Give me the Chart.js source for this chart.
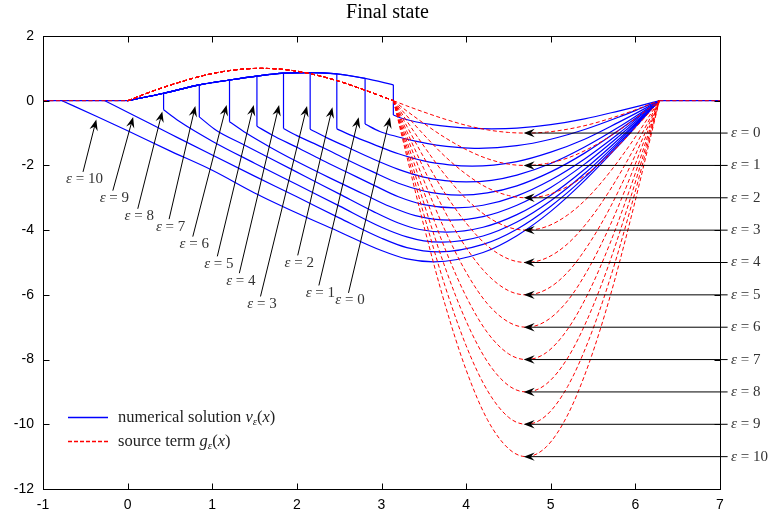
<!DOCTYPE html>
<html>
<head>
<meta charset="utf-8">
<title>Final state</title>
<script src="https://cdn.jsdelivr.net/npm/chart.js@4.4.1/dist/chart.umd.min.js"></script>
<style>
  html, body { margin: 0; padding: 0; background: #fff; }
</style>
</head>
<body>
<canvas id="chart" width="775" height="519"></canvas>
<script>
// ---- data ----
const epsValues = [0, 1, 2, 3, 4, 5, 6, 7, 8, 9, 10];
const xTicks = [-1, 0, 1, 2, 3, 4, 5, 6, 7];
const yTicks = [-12, -10, -8, -6, -4, -2, 0, 2];

// upper envelope of v_eps before the jump (shared by eps = 0..8)
const envX = [0, 0.425, 0.847, 1.204, 1.528, 1.842, 2.157, 2.472, 2.806, 3.14];
const envY = [0, 0.23, 0.49, 0.64, 0.76, 0.85, 0.87, 0.83, 0.69, 0.49];
const jumpX = [3.14, 2.806, 2.472, 2.157, 1.842, 1.528, 1.204, 0.847, 0.425, null, null];
const jumpBottom = [-0.44, -0.72, -0.87, -0.88, -0.86, -0.79, -0.65, -0.50, -0.28, null, null];

// v_eps after the jump, down to the minimum and back up to 2*pi
const vLowX = [
  [3.14, 3.25, 3.4, 3.6, 3.8, 4.05, 4.3, 4.6, 5.0, 5.4, 5.8, 6.05, 6.2832],
  [2.806, 2.98, 3.2, 3.4, 3.65, 3.9, 4.15, 4.6, 5.0, 5.4, 5.8, 6.05, 6.2832],
  [2.472, 2.65, 2.9, 3.2, 3.5, 3.8, 4.07, 4.6, 5.0, 5.4, 5.8, 6.05, 6.2832],
  [2.157, 2.35, 2.6, 2.9, 3.2, 3.5, 3.75, 4.0, 4.3, 4.6, 5.0, 5.4, 5.8, 6.05, 6.2832],
  [1.842, 2.0, 2.3, 2.6, 2.9, 3.2, 3.5, 3.7, 3.93, 4.25, 4.6, 5.0, 5.4, 5.8, 6.05, 6.2832],
  [1.528, 1.7, 2.0, 2.3, 2.6, 2.9, 3.2, 3.5, 3.87, 4.2, 4.6, 5.0, 5.4, 5.8, 6.05, 6.2832],
  [1.204, 1.4, 1.7, 2.0, 2.4, 2.8, 3.1, 3.4, 3.81, 4.2, 4.6, 5.0, 5.4, 5.8, 6.05, 6.2832],
  [0.847, 1.05, 1.35, 1.7, 2.1, 2.5, 2.9, 3.2, 3.45, 3.77, 4.2, 4.6, 5.0, 5.4, 5.8, 6.05, 6.2832],
  [0.425, 0.6, 1.0, 1.5, 2.0, 2.5, 3.0, 3.3, 3.5, 3.72, 4.2, 4.6, 5.0, 5.4, 5.8, 6.05, 6.2832],
  [-0.27, 0.07, 0.5, 1.0, 1.5, 2.0, 2.5, 3.0, 3.3, 3.68, 4.2, 4.6, 5.0, 5.4, 5.8, 6.05, 6.2832],
  [-0.775, -0.37, 0, 0.5, 1.0, 1.5, 2.0, 2.5, 3.0, 3.3, 3.62, 4.2, 4.6, 5.0, 5.4, 5.8, 6.05, 6.2832]
];
const vLowY = [
  [-0.44, -0.55, -0.65, -0.74, -0.80, -0.85, -0.87, -0.85, -0.74, -0.56, -0.32, -0.16, 0],
  [-0.72, -0.95, -1.12, -1.25, -1.37, -1.44, -1.47, -1.39, -1.19, -0.89, -0.51, -0.25, 0],
  [-0.87, -1.08, -1.34, -1.64, -1.86, -1.98, -2.02, -1.88, -1.59, -1.19, -0.67, -0.33, 0],
  [-0.88, -1.14, -1.44, -1.80, -2.12, -2.36, -2.47, -2.51, -2.46, -2.30, -1.94, -1.43, -0.82, -0.40, 0],
  [-0.86, -1.08, -1.44, -1.83, -2.20, -2.55, -2.79, -2.88, -2.92, -2.85, -2.63, -2.20, -1.62, -0.92, -0.45, 0],
  [-0.79, -1.05, -1.44, -1.84, -2.22, -2.60, -2.97, -3.21, -3.31, -3.23, -2.94, -2.45, -1.80, -1.02, -0.49, 0],
  [-0.65, -1.00, -1.46, -1.88, -2.40, -2.90, -3.27, -3.55, -3.69, -3.58, -3.23, -2.68, -1.96, -1.11, -0.54, 0],
  [-0.50, -0.92, -1.33, -1.80, -2.34, -2.88, -3.42, -3.78, -3.98, -4.06, -3.91, -3.52, -2.92, -2.12, -1.20, -0.58, 0],
  [-0.28, -0.62, -1.25, -1.93, -2.59, -3.25, -3.91, -4.21, -4.33, -4.37, -4.18, -3.75, -3.09, -2.25, -1.27, -0.61, 0],
  [0, -0.45, -1.02, -1.68, -2.33, -2.97, -3.62, -4.25, -4.54, -4.67, -4.44, -3.97, -3.26, -2.37, -1.33, -0.64, 0],
  [0, -0.48, -0.93, -1.55, -2.15, -2.85, -3.47, -4.05, -4.63, -4.89, -4.98, -4.69, -4.17, -3.42, -2.47, -1.39, -0.67, 0]
];

// source term g_eps: common hump on [0, pi], then one dip per eps on [pi, 2pi]
const gHumpX = [0, 0.3, 0.6, 0.9, 1.2, 1.5708, 1.9, 2.2, 2.5, 2.8, 3.1416];
const gHumpY = [0, 0.30, 0.56, 0.78, 0.93, 1.0, 0.95, 0.81, 0.60, 0.33, 0];
const gDipX = [3.1416, 3.3, 3.5, 3.75, 4.0, 4.25, 4.5, 4.71, 4.95, 5.2, 5.45, 5.7, 5.95, 6.15, 6.2832];
const gDipY = [
  [0, -0.16, -0.35, -0.57, -0.76, -0.90, -0.98, -1, -0.97, -0.88, -0.74, -0.55, -0.33, -0.13, 0],
  [0, -0.32, -0.70, -1.14, -1.51, -1.79, -1.96, -2, -1.94, -1.77, -1.48, -1.10, -0.65, -0.26, 0],
  [0, -0.47, -1.05, -1.72, -2.27, -2.69, -2.93, -3, -2.92, -2.65, -2.22, -1.65, -0.98, -0.40, 0],
  [0, -0.63, -1.40, -2.29, -3.03, -3.58, -3.91, -4, -3.89, -3.53, -2.96, -2.20, -1.31, -0.53, 0],
  [0, -0.79, -1.75, -2.86, -3.78, -4.48, -4.89, -5, -4.86, -4.42, -3.70, -2.76, -1.64, -0.66, 0],
  [0, -0.95, -2.10, -3.43, -4.54, -5.37, -5.87, -6, -5.83, -5.30, -4.43, -3.31, -1.96, -0.79, 0],
  [0, -1.10, -2.46, -4.00, -5.30, -6.27, -6.84, -7, -6.80, -6.18, -5.17, -3.86, -2.29, -0.92, 0],
  [0, -1.26, -2.81, -4.57, -6.05, -7.16, -7.82, -8, -7.78, -7.06, -5.91, -4.41, -2.62, -1.06, 0],
  [0, -1.42, -3.16, -5.14, -6.81, -8.06, -8.80, -9, -8.75, -7.95, -6.65, -4.96, -2.94, -1.19, 0],
  [0, -1.58, -3.51, -5.72, -7.57, -8.95, -9.78, -10, -9.72, -8.83, -7.39, -5.51, -3.27, -1.32, 0],
  [0, -1.73, -3.86, -6.29, -8.32, -9.85, -10.75, -11, -10.69, -9.71, -8.13, -6.06, -3.60, -1.45, 0]
];
const zeroLeftX = [-1, 0];
const zeroRightX = [6.2832, 7];

// annotation arrows (data units)
const leftTailX = [2.61, 2.26, 2.01, 1.57, 1.32, 1.06, 0.77, 0.49, 0.12, -0.175, -0.527];
const leftTailY = [-5.94, -5.71, -4.78, -6.05, -5.33, -4.81, -4.20, -3.66, -3.34, -2.78, -2.20];
const leftTipX = [3.10, 2.73, 2.42, 2.12, 1.79, 1.49, 1.17, 0.80, 0.41, 0.065, -0.37];
const leftTipY = [-0.51, -0.51, -0.20, -0.16, -0.13, -0.13, -0.13, -0.16, -0.33, -0.50, -0.58];
const rightArrowY = [-1, -2, -3, -4, -5, -6, -7, -8, -9, -10, -11];
const rightTailX = 7.09;
const rightTipX = 4.68;

// ---- styles ----
const BLUE = 'rgb(0, 0, 255)';
const RED = 'rgb(255, 0, 0)';
const SERIF = '"Liberation Serif", "DejaVu Serif", serif';
const tickFont = { family: '"Liberation Sans", Arial, sans-serif', size: 14 };

const pts = (xs, ys) => xs.map((x, i) => ({ x, y: ys[i] }));
const blueLine = (data, smooth) => ({
  data, borderColor: BLUE, borderWidth: 1.2, pointRadius: 0, fill: false, order: 1,
  cubicInterpolationMode: smooth ? 'monotone' : 'default', tension: 0
});
const redLine = (data, smooth) => ({
  data, borderColor: RED, borderWidth: 1, borderDash: [4, 2.5], pointRadius: 0, fill: false, order: 0,
  cubicInterpolationMode: smooth ? 'monotone' : 'default', tension: 0
});

const datasets = [];
epsValues.forEach((e, k) => {
  // numerical solution v_eps
  if (jumpX[k] !== null) {
    const n = envX.indexOf(jumpX[k]);
    datasets.push(blueLine(pts(envX.slice(0, n + 1), envY.slice(0, n + 1)), true));
    datasets.push(blueLine([{ x: jumpX[k], y: envY[n] }, { x: jumpX[k], y: jumpBottom[k] }], false));
  }
  datasets.push(blueLine(pts(vLowX[k], vLowY[k]), true));
  // source term g_eps
  datasets.push(redLine(pts(gHumpX, gHumpY), true));
  datasets.push(redLine(pts(gDipX, gDipY[k]), true));
});
datasets.push(blueLine(pts(zeroLeftX, [0, 0]), false));
datasets.push(blueLine(pts(zeroRightX, [0, 0]), false));
datasets.push(redLine(pts(zeroLeftX, [0, 0]), false));
datasets.push(redLine(pts(zeroRightX, [0, 0]), false));

// ---- drawing helpers ----
function richText(ctx, parts, x, y, align, size) {
  const fontOf = p => (p[1].includes('i') ? 'italic ' : '') + (p[1].includes('s') ? Math.round(size * 0.68) : size) + 'px ' + SERIF;
  let w = 0;
  parts.forEach(p => { ctx.font = fontOf(p); w += ctx.measureText(p[0]).width; });
  let cx = align === 'center' ? x - w / 2 : x;
  ctx.textAlign = 'left';
  ctx.textBaseline = 'middle';
  parts.forEach(p => {
    ctx.font = fontOf(p);
    ctx.fillText(p[0], cx, y + (p[1].includes('s') ? size * 0.28 : 0));
    cx += ctx.measureText(p[0]).width;
  });
}

function arrow(ctx, x1, y1, x2, y2) {
  const a = Math.atan2(y2 - y1, x2 - x1);
  const c = Math.cos(a), s = Math.sin(a);
  const len = 11, wid = 4.2;
  ctx.beginPath();
  ctx.moveTo(x1, y1);
  ctx.lineTo(x2 - c * 6, y2 - s * 6);
  ctx.stroke();
  ctx.beginPath();
  ctx.moveTo(x2, y2);
  ctx.lineTo(x2 - c * len - s * wid, y2 - s * len + c * wid);
  ctx.lineTo(x2 - c * len * 0.65, y2 - s * len * 0.65);
  ctx.lineTo(x2 - c * len + s * wid, y2 - s * len - c * wid);
  ctx.closePath();
  ctx.fill();
}

const epsLabel = e => [['ε', 'i'], [' = ' + e, 'r']];

const decorations = {
  id: 'decorations',
  afterDraw(chart) {
    const { ctx, chartArea: ca, scales: { x, y } } = chart;
    ctx.save();

    // frame and inward ticks on all four sides
    ctx.strokeStyle = '#000';
    ctx.lineWidth = 1;
    const L = Math.round(ca.left) + 0.5, R = Math.round(ca.right) + 0.5;
    const T = Math.round(ca.top) + 0.5, B = Math.round(ca.bottom) + 0.5;
    ctx.strokeRect(L, T, R - L, B - T);
    ctx.beginPath();
    xTicks.forEach(v => {
      const px = Math.round(x.getPixelForValue(v)) + 0.5;
      ctx.moveTo(px, B); ctx.lineTo(px, B - 6);
      ctx.moveTo(px, T); ctx.lineTo(px, T + 6);
    });
    yTicks.forEach(v => {
      const py = Math.round(y.getPixelForValue(v)) + 0.5;
      ctx.moveTo(L, py); ctx.lineTo(L + 6, py);
      ctx.moveTo(R, py); ctx.lineTo(R - 6, py);
    });
    ctx.stroke();

    // title
    ctx.fillStyle = '#000';
    ctx.font = '20px ' + SERIF;
    ctx.textAlign = 'center';
    ctx.textBaseline = 'middle';
    ctx.fillText('Final state', 387.5, 13);

    // arrows pointing at the jumps of v_eps
    ctx.fillStyle = '#000';
    ctx.strokeStyle = '#000';
    ctx.lineWidth = 1;
    epsValues.forEach((e, k) => {
      const tx = x.getPixelForValue(leftTailX[k]), ty = y.getPixelForValue(leftTailY[k]);
      arrow(ctx, tx, ty, x.getPixelForValue(leftTipX[k]), y.getPixelForValue(leftTipY[k]));
    });
    // arrows pointing at the minima of g_eps
    epsValues.forEach((e, k) => {
      const py = y.getPixelForValue(rightArrowY[k]);
      arrow(ctx, x.getPixelForValue(rightTailX), py, x.getPixelForValue(rightTipX), py);
    });

    // eps labels
    ctx.fillStyle = '#333';
    epsValues.forEach((e, k) => {
      const tx = x.getPixelForValue(leftTailX[k]), ty = y.getPixelForValue(leftTailY[k]);
      richText(ctx, epsLabel(e), tx + 1.5, ty + 7.5, 'center', 15);
      const rx = x.getPixelForValue(rightTailX), ry = y.getPixelForValue(rightArrowY[k]);
      richText(ctx, epsLabel(e), rx + 3.5, ry, 'left', 15);
    });

    // legend
    const lx = ca.left + 25, ly1 = Math.round(ca.bottom - 72) + 0.5, ly2 = Math.round(ca.bottom - 48) + 0.5;
    ctx.lineWidth = 1.3;
    ctx.strokeStyle = BLUE;
    ctx.beginPath(); ctx.moveTo(lx, ly1); ctx.lineTo(lx + 40, ly1); ctx.stroke();
    ctx.strokeStyle = RED;
    ctx.setLineDash([4, 2]);
    ctx.beginPath(); ctx.moveTo(lx, ly2); ctx.lineTo(lx + 40, ly2); ctx.stroke();
    ctx.setLineDash([]);
    ctx.fillStyle = '#222';
    richText(ctx, [['numerical solution ', 'r'], ['v', 'i'], ['ε', 'is'], ['(', 'r'], ['x', 'i'], [')', 'r']], lx + 50, ly1, 'left', 16.5);
    richText(ctx, [['source term ', 'r'], ['g', 'i'], ['ε', 'is'], ['(', 'r'], ['x', 'i'], [')', 'r']], lx + 50, ly2, 'left', 16.5);

    ctx.restore();
  }
};

new Chart(document.getElementById('chart'), {
  type: 'line',
  data: { datasets },
  options: {
    responsive: false,
    animation: false,
    events: [],
    layout: { padding: { top: 36, right: 55, left: 0, bottom: 0 } },
    plugins: { legend: { display: false }, tooltip: { enabled: false } },
    elements: { point: { radius: 0 } },
    scales: {
      x: {
        type: 'linear', min: -1, max: 7,
        afterBuildTicks: s => { s.ticks = xTicks.map(v => ({ value: v })); },
        afterFit: s => { s.height = 30; },
        grid: { display: false, drawTicks: false },
        border: { display: false },
        ticks: { autoSkip: false, maxRotation: 0, padding: 8, color: '#000', font: tickFont, callback: v => String(v) }
      },
      y: {
        type: 'linear', min: -12, max: 2,
        afterBuildTicks: s => { s.ticks = yTicks.map(v => ({ value: v })); },
        afterFit: s => { s.width = 43; },
        grid: { display: false, drawTicks: false },
        border: { display: false },
        ticks: { autoSkip: false, padding: 9, color: '#000', font: tickFont, callback: v => String(v) }
      }
    }
  },
  plugins: [decorations]
});
</script>
</body>
</html>
